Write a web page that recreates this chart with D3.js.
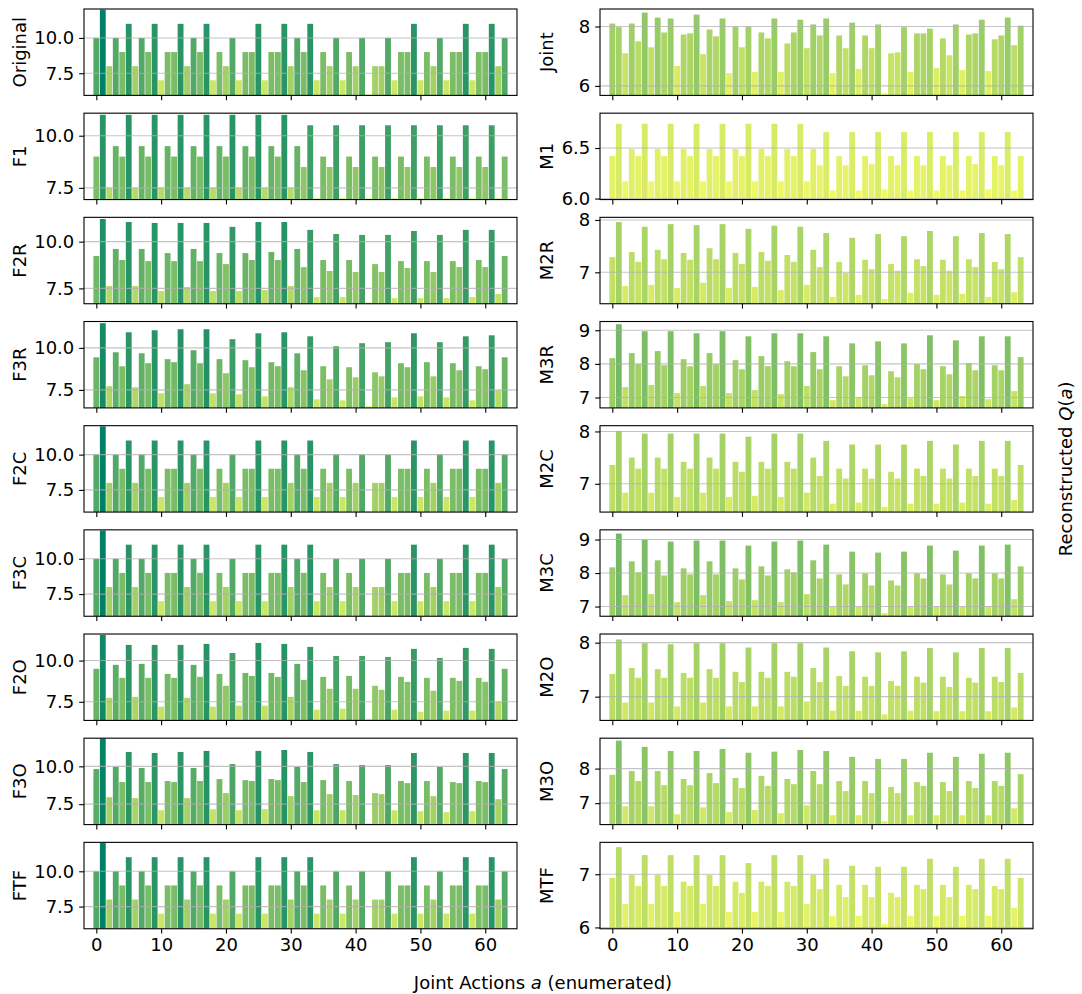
<!DOCTYPE html>
<html>
<head>
<meta charset="utf-8">
<script src="https://cdn.jsdelivr.net/npm/d3@7"></script>
<style>
  html, body { margin: 0; padding: 0; background: #fff; }
  svg { display: block; font-family: "DejaVu Sans", sans-serif; }
</style>
</head>
<body>
<svg id="chart" width="1082" height="994"></svg>
<script>
// ---- data: reconstructed Q-values for the 64 enumerated joint actions ----
const ACTIONS = d3.range(64);
const X_TICKS = [0, 10, 20, 30, 40, 50, 60];

const ORIGINAL = [10,12,8,10, 9,11,8,10, 9,11,7,9, 9,11,8,10, 9,11,7,9, 8,10,7,9, 9,11,7,9, 9,11,8,10,
                  9,11,7,9, 8,10,7,9, 8,10,6,8, 8,10,7,9, 9,11,7,9, 8,10,7,9, 9,11,7,9, 9,11,8,10];
const F1 = [9,11,7.5,9.5, 9,11,7.5,9.5, 9,11,7.5,9.5, 9,11,7.5,9.5, 9,11,7.5,9.5, 9,11,7.5,9.5, 9,11,7.5,9.5, 9,11,7.5,9.5,
            8.5,10.5,7,9, 8.5,10.5,7,9, 8.5,10.5,7,9, 8.5,10.5,7,9, 8.5,10.5,7,9, 8.5,10.5,7,9, 8.5,10.5,7,9, 8.5,10.5,7,9];
const F2R = [9.23,11.21,7.63,9.61, 9.02,11.05,7.63,9.61, 8.96,11.0,7.36,9.39, 8.96,11.0,7.57,9.61,
             8.96,11.0,7.36,9.39, 8.80,10.79,7.36,9.39, 9.02,11.05,7.41,9.45, 9.02,11.05,7.63,9.61,
             8.64,10.63,7.04,9.02, 8.43,10.41,7.04,9.02, 8.38,10.36,6.75,8.80, 8.38,10.36,6.98,8.96,
             8.59,10.57,6.98,8.96, 8.38,10.36,6.98,8.96, 8.64,10.63,7.04,9.02, 8.64,10.63,7.20,9.23];
const F3R = [9.44,11.47,7.72,9.74, 8.91,10.93,7.66,9.68, 9.09,11.05,7.30,9.33, 9.15,11.11,7.84,9.86,
             9.09,11.11,7.30,9.33, 8.49,10.52,7.24,9.27, 8.85,10.87,7.12,9.15, 8.91,10.93,7.66,9.68,
             8.67,10.69,6.94,8.91, 8.13,10.10,6.88,8.85, 8.25,10.28,6.53,8.55, 8.31,10.34,7.06,9.09,
             8.85,10.87,7.12,9.15, 8.31,10.34,7.06,9.09, 8.67,10.69,6.88,8.91, 8.73,10.75,7.48,9.44];
const F2C = [10,12,8,10, 9,11,8,10, 9,11,7,9, 9,11,8,10, 9,11,7,9, 8,10,7,9, 9,11,7,9, 9,11,8,10,
             9,11,7,9, 8,10,7,9, 8,10,6,8, 8,10,7,9, 9,11,7,9, 8,10,7,9, 9,11,7,9, 9,11,8,10];
const F3C = [10,12,8,10, 9,11,8,10, 9,11,7,9, 9,11,8,10, 9,11,7,9, 8,10,7,9, 9,11,7,9, 9,11,8,10,
             9,11,7,9, 8,10,7,9, 8,10,6,8, 8,10,7,9, 9,11,7,9, 8,10,7,9, 9,11,7,9, 9,11,8,10];
const F2O = [9.50,11.55,7.74,9.74, 8.95,10.95,7.80,9.80, 8.95,10.95,7.20,9.19, 8.95,10.95,7.74,9.74,
             9.01,11.01,7.20,9.19, 8.47,10.46,7.26,9.25, 9.07,11.07,7.26,9.25, 9.01,11.01,7.80,9.80,
             8.83,10.83,7.02,9.01, 8.29,10.28,7.08,9.07, 8.29,10.28,6.47,8.47, 8.23,10.22,7.02,9.01,
             8.71,10.71,6.90,8.95, 8.17,10.16,6.96,8.95, 8.77,10.77,6.96,8.95, 8.71,10.71,7.50,9.50];
const F3O = [9.82,11.86,7.96,9.96, 8.96,10.95,7.90,9.89, 8.96,10.88,7.10,9.03, 8.96,10.95,7.90,9.89,
             9.03,11.02,7.17,9.16, 8.23,10.15,7.10,9.09, 9.03,11.02,7.17,9.16, 9.09,11.08,8.03,9.96,
             8.96,10.95,7.10,9.09, 8.16,10.15,7.10,9.03, 8.10,10.09,6.24,8.23, 8.16,10.09,7.10,9.03,
             8.89,10.88,7.04,9.03, 8.03,9.96,6.97,8.96, 8.89,10.88,7.04,9.03, 8.96,10.88,7.83,9.82];
const FTF = [10,12,8,10, 9,11,8,10, 9,11,7,9, 9,11,8,10, 9,11,7,9, 8,10,7,9, 9,11,7,9, 9,11,8,10,
             9,11,7,9, 8,10,7,9, 8,10,6,8, 8,10,7,9, 9,11,7,9, 8,10,7,9, 9,11,7,9, 9,11,8,10];

const JOINT = [8.10,7.98,7.10,8.10, 7.50,8.47,7.30,8.30, 7.80,8.27,6.67,7.73, 7.77,8.40,7.07,7.90,
               7.67,8.27,6.43,8.00, 7.30,8.00,6.47,7.80, 7.60,8.27,6.47,7.43, 7.80,8.23,7.27,8.07,
               7.70,8.27,6.43,7.70, 7.27,8.13,6.57,7.70, 7.27,8.07,5.76,7.10, 7.13,7.98,6.47,7.77,
               7.77,7.93,6.60,7.60, 7.03,8.07,6.53,7.73, 7.77,8.23,6.50,7.57, 7.70,8.30,7.37,8.03];
const M1 = [6.42,6.74,6.17,6.49, 6.42,6.74,6.17,6.49, 6.42,6.74,6.17,6.49, 6.42,6.74,6.17,6.49,
            6.42,6.74,6.17,6.49, 6.42,6.74,6.17,6.49, 6.42,6.74,6.17,6.49, 6.42,6.74,6.17,6.49,
            6.33,6.66,6.08,6.42, 6.33,6.66,6.08,6.42, 6.34,6.66,6.09,6.42, 6.33,6.66,6.08,6.42,
            6.33,6.66,6.08,6.42, 6.33,6.66,6.08,6.42, 6.34,6.66,6.09,6.42, 6.33,6.66,6.08,6.42];
const M2R = [7.29,7.96,6.74,7.39, 7.20,7.87,6.76,7.43, 7.25,7.92,6.70,7.37, 7.24,7.90,6.80,7.46,
             7.25,7.92,6.70,7.37, 7.16,7.83,6.72,7.39, 7.22,7.89,6.66,7.33, 7.20,7.87,6.76,7.43,
             7.10,7.75,6.53,7.20, 6.99,7.66,6.57,7.24, 7.06,7.73,6.49,7.16, 7.03,7.69,6.61,7.25,
             7.12,7.79,6.57,7.24, 7.03,7.69,6.59,7.25, 7.10,7.75,6.53,7.20, 7.06,7.73,6.62,7.29];
const M3R = [8.17,9.18,7.31,8.32, 7.99,8.97,7.37,8.38, 7.96,8.97,7.13,8.14, 7.93,8.91,7.34,8.32,
             7.99,8.97,7.13,8.11, 7.84,8.82,7.22,8.23, 7.93,8.91,7.10,8.08, 7.93,8.91,7.34,8.35,
             7.84,8.82,6.92,7.93, 7.63,8.61,7.01,7.96, 7.66,8.67,6.80,7.78, 7.60,8.61,6.98,7.99,
             7.84,8.85,6.92,7.93, 7.69,8.70,7.04,8.02, 7.81,8.82,6.95,7.96, 7.81,8.82,7.19,8.20];
const M2C = [7.36,8.01,6.83,7.50, 7.29,7.96,6.83,7.50, 7.29,7.96,6.75,7.42, 7.29,7.96,6.83,7.50,
             7.29,7.96,6.75,7.42, 7.23,7.90,6.77,7.42, 7.29,7.96,6.75,7.42, 7.29,7.96,6.83,7.50,
             7.15,7.82,6.62,7.29, 7.10,7.75,6.64,7.29, 7.10,7.75,6.56,7.23, 7.10,7.75,6.62,7.29,
             7.15,7.82,6.62,7.29, 7.10,7.75,6.64,7.29, 7.15,7.82,6.62,7.29, 7.15,7.82,6.69,7.36];
const M3C = [8.17,9.18,7.34,8.35, 8.02,9.00,7.37,8.38, 7.93,8.94,7.13,8.14, 7.96,8.97,7.34,8.35,
             7.96,8.97,7.16,8.14, 7.81,8.82,7.19,8.20, 7.93,8.94,7.13,8.11, 8.02,8.97,7.37,8.38,
             7.84,8.85,7.00,7.96, 7.66,8.64,7.00,7.99, 7.63,8.61,6.80,7.78, 7.63,8.64,7.00,7.99,
             7.84,8.82,7.00,7.96, 7.66,8.67,7.00,7.99, 7.84,8.82,7.00,7.99, 7.84,8.85,7.22,8.20];
const M2O = [7.42,8.06,6.89,7.53, 7.35,7.99,6.89,7.51, 7.35,7.97,6.82,7.44, 7.35,7.99,6.89,7.51,
             7.35,7.99,6.82,7.46, 7.27,7.91,6.82,7.46, 7.35,7.99,6.82,7.46, 7.37,7.99,6.91,7.53,
             7.27,7.91,6.74,7.38, 7.20,7.84,6.74,7.37, 7.20,7.82,6.67,7.29, 7.20,7.84,6.74,7.37,
             7.26,7.90,6.73,7.37, 7.18,7.82,6.73,7.35, 7.26,7.90,6.73,7.37, 7.27,7.90,6.80,7.44];
const M3O = [7.82,8.81,6.91,7.93, 7.64,8.63,6.91,7.93, 7.52,8.51,6.68,7.70, 7.52,8.51,6.88,7.87,
             7.58,8.57,6.74,7.73, 7.44,8.46,6.80,7.79, 7.50,8.49,6.71,7.70, 7.55,8.54,6.94,7.93,
             7.55,8.51,6.65,7.64, 7.35,8.34,6.65,7.64, 7.29,8.28,6.48,7.47, 7.29,8.28,6.65,7.61,
             7.50,8.46,6.65,7.61, 7.35,8.34,6.65,7.64, 7.44,8.43,6.65,7.64, 7.50,8.46,6.85,7.84];
const MTF = [6.93,7.51,6.44,6.99, 6.78,7.36,6.44,6.99, 6.78,7.36,6.29,6.86, 6.78,7.36,6.44,6.99,
             6.78,7.36,6.29,6.86, 6.65,7.21,6.29,6.86, 6.78,7.36,6.29,6.86, 6.78,7.36,6.44,6.99,
             6.72,7.29,6.22,6.80, 6.57,7.16,6.22,6.80, 6.57,7.14,6.07,6.65, 6.57,7.14,6.22,6.80,
             6.72,7.29,6.22,6.80, 6.57,7.14,6.22,6.80, 6.72,7.29,6.22,6.78, 6.72,7.29,6.37,6.93];

const LEFT_LABELS = ["Original", "F1", "F2R", "F3R", "F2C", "F3C", "F2O", "F3O", "FTF"];
const LEFT_SERIES = [ORIGINAL, F1, F2R, F3R, F2C, F3C, F2O, F3O, FTF];
const LEFT_YLIM = [[5.93, 12.05], [6.94, 11.08], [6.68, 11.30], [6.43, 11.57], [5.93, 12.05],
                   [5.93, 12.05], [6.37, 11.61], [6.15, 11.86], [5.93, 12.05]];
const LEFT_YTICKS = [[7.5, 10], [7.5, 10], [7.5, 10], [7.5, 10], [7.5, 10],
                     [7.5, 10], [7.5, 10], [7.5, 10], [7.5, 10]];

const RIGHT_LABELS = ["Joint", "M1", "M2R", "M3R", "M2C", "M3C", "M2O", "M3O", "MTF"];
const RIGHT_SERIES = [JOINT, M1, M2R, M3R, M2C, M3C, M2O, M3O, MTF];
const RIGHT_YLIM = [[5.68, 8.59], [5.99, 6.845], [6.40, 8.05], [6.69, 9.26], [6.46, 8.11],
                    [6.71, 9.29], [6.56, 8.16], [6.38, 8.88], [5.975, 7.6]];
const RIGHT_YTICKS = [[6, 8], [6.0, 6.5], [7, 8], [7, 8, 9], [7, 8],
                      [7, 8, 9], [7, 8], [7, 8], [6, 7]];
const RIGHT_TICKFMT = ["d", ".1f", "d", "d", "d", "d", "d", "d", "d"];

// ---- layout ----
const FONT = 18;
const COLS = [{ x0: 84, x1: 517 }, { x0: 600, x1: 1033 }];
const ROW_TOP = 9, ROW_PITCH = 104.17, ROW_H = 86.4;
const XLIM = [-1.9, 64.9];
const TICK_LEN = 4.86, TICK_PAD = 4.86;

const svg = d3.select("#chart");

// one colour scale shared by every panel (summer colormap, high values dark)
const allValues = LEFT_SERIES.concat(RIGHT_SERIES).flat();
const summer = t => d3.rgb(255 * t, 127.5 + 127.5 * t, 102).formatHex();
const color = d3.scaleSequential(summer).domain([d3.max(allValues), d3.min(allValues)]);

function drawPanel(col, row, label, values, ylim, yticks, fmt, showX, labelX) {
  const c = COLS[col];
  const top = ROW_TOP + row * ROW_PITCH, bottom = top + ROW_H;
  const x = d3.scaleLinear().domain(XLIM).range([c.x0, c.x1]);
  const y = d3.scaleLinear().domain(ylim).range([bottom, top]);
  const bw = x(0.9) - x(0);

  const g = svg.append("g");
  const clipId = `clip-${col}-${row}`;
  g.append("clipPath").attr("id", clipId)
    .append("rect").attr("x", c.x0).attr("y", top).attr("width", c.x1 - c.x0).attr("height", ROW_H);

  g.append("g").attr("clip-path", `url(#${clipId})`)
    .selectAll("rect").data(ACTIONS).join("rect")
    .attr("x", i => x(i) - bw / 2)
    .attr("width", bw)
    .attr("y", i => y(values[i]))
    .attr("height", i => Math.max(0, bottom - y(values[i])))
    .attr("fill", i => color(values[i]));

  // horizontal grid
  g.append("g").selectAll("line").data(yticks).join("line")
    .attr("x1", c.x0).attr("x2", c.x1)
    .attr("y1", d => y(d)).attr("y2", d => y(d))
    .attr("stroke", "#b0b0b0").attr("stroke-opacity", 0.75).attr("stroke-width", 1.1);

  // y axis
  const ya = g.append("g").attr("transform", `translate(${c.x0},0)`)
    .call(d3.axisLeft(y).tickValues(yticks).tickFormat(d3.format(fmt))
      .tickSize(TICK_LEN).tickPadding(TICK_PAD));
  ya.select(".domain").remove();
  ya.selectAll("line").attr("stroke", "#000").attr("stroke-width", 1.1);
  ya.selectAll("text").attr("font-size", FONT).attr("font-family", "DejaVu Sans").attr("fill", "#000");

  // x axis
  const xa = g.append("g").attr("transform", `translate(0,${bottom})`)
    .call(d3.axisBottom(x).tickValues(X_TICKS).tickFormat(showX ? d3.format("d") : () => "")
      .tickSize(TICK_LEN).tickPadding(TICK_PAD));
  xa.select(".domain").remove();
  xa.selectAll("line").attr("stroke", "#000").attr("stroke-width", 1.1);
  xa.selectAll("text").attr("font-size", FONT).attr("font-family", "DejaVu Sans").attr("fill", "#000");

  // frame
  g.append("rect").attr("x", c.x0).attr("y", top).attr("width", c.x1 - c.x0).attr("height", ROW_H)
    .attr("fill", "none").attr("stroke", "#000").attr("stroke-width", 1.1);

  // panel label
  g.append("text")
    .attr("transform", `translate(${labelX},${(top + bottom) / 2}) rotate(-90)`)
    .attr("text-anchor", "middle").attr("dy", "0.35em")
    .attr("font-size", FONT).attr("fill", "#000")
    .text(label);
}

LEFT_LABELS.forEach((lab, r) =>
  drawPanel(0, r, lab, LEFT_SERIES[r], LEFT_YLIM[r], LEFT_YTICKS[r], ".1f", r === 8, COLS[0].x0 - 64));
RIGHT_LABELS.forEach((lab, r) =>
  drawPanel(1, r, lab, RIGHT_SERIES[r], RIGHT_YLIM[r], RIGHT_YTICKS[r], RIGHT_TICKFMT[r], r === 8, COLS[1].x0 - 53));

// shared axis titles
const xt = svg.append("text").attr("x", 543).attr("y", 989)
  .attr("text-anchor", "middle").attr("font-size", FONT).attr("fill", "#000");
xt.append("tspan").text("Joint Actions ");
xt.append("tspan").attr("font-style", "italic").text("a");
xt.append("tspan").text(" (enumerated)");

const midY = ROW_TOP + (8 * ROW_PITCH + ROW_H) / 2;
const yt = svg.append("text")
  .attr("transform", `translate(1066,${midY}) rotate(-90)`)
  .attr("text-anchor", "middle").attr("dy", "0.35em")
  .attr("font-size", FONT).attr("fill", "#000");
yt.append("tspan").text("Reconstructed ");
yt.append("tspan").attr("font-style", "italic").text("Q");
yt.append("tspan").text("(");
yt.append("tspan").attr("font-style", "italic").text("a");
yt.append("tspan").text(")");
</script>
</body>
</html>
